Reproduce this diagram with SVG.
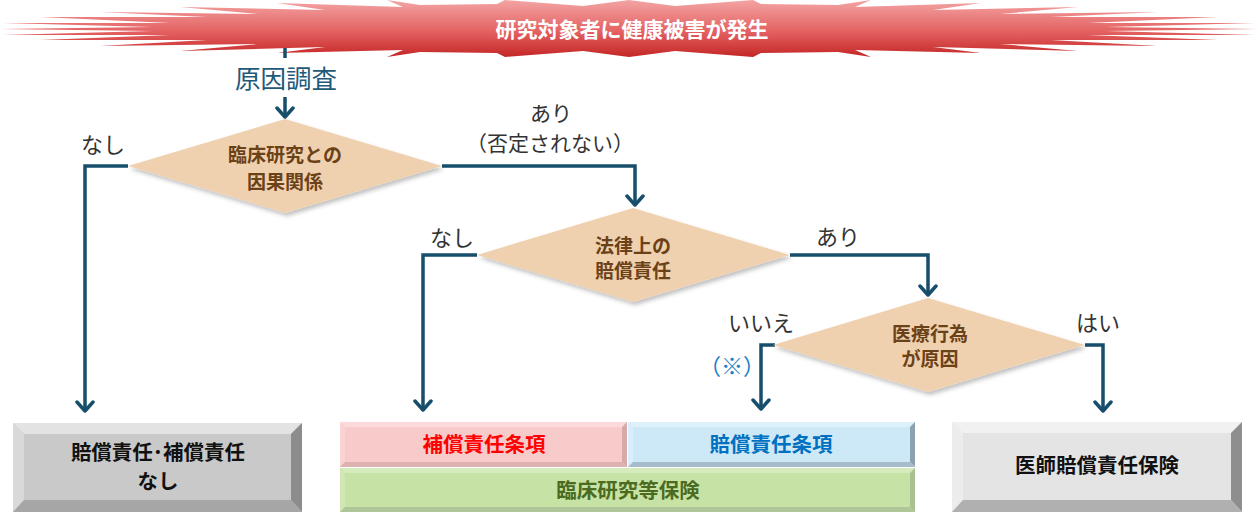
<svg xmlns="http://www.w3.org/2000/svg" width="1258" height="512" viewBox="0 0 1258 512">
<defs>
<linearGradient id="burst" x1="0" y1="0" x2="0" y2="57" gradientUnits="userSpaceOnUse">
<stop offset="0" stop-color="#F3A4A4"/>
<stop offset="0.55" stop-color="#E46262"/>
<stop offset="1" stop-color="#C42626"/>
</linearGradient>
<filter id="sh" x="-10%" y="-10%" width="130%" height="140%">
<feDropShadow dx="2" dy="3" stdDeviation="2" flood-color="#000" flood-opacity="0.25"/>
</filter>
<marker id="arr" viewBox="-12 -10 14 20" markerWidth="14" markerHeight="20" refX="0" refY="0" orient="auto" markerUnits="userSpaceOnUse">
<path d="M-9,-8 L0,0 L-9,8" fill="none" stroke="#164E6B" stroke-width="3.5" stroke-linecap="round" stroke-linejoin="round"/>
</marker>
</defs>
<style>
.con{fill:none;stroke:#164E6B;stroke-width:3.5}
.dia{fill:#F0D1AF;filter:url(#sh)}
.dt{font-family:"Noto Sans CJK JP","Noto Sans",sans-serif;font-weight:bold;font-size:19px;fill:#6B4218;text-anchor:middle}
.lbl{font-family:"Noto Sans CJK JP","Noto Sans",sans-serif;font-size:22px;fill:#333333;text-anchor:middle}
.bt{font-family:"Noto Sans CJK JP","Noto Sans",sans-serif;font-weight:bold;font-size:20.5px;text-anchor:middle}
</style>
<rect width="1258" height="512" fill="#FFFFFF"/>

<g id="burst-node">
<polygon fill="url(#burst)" points="387,0 420,5 497,4 505,0 583,6 629,0 675,6 753,0 761,4 838,5 871,0 855,7 981,3 933,10 1078,7 1000,14 1158,12 1051,17 1218,17 1088,23 1255,23 1106,27 1258,29 1106,31 1255,35 1088,35 1218,40 1051,40 1158,46 1000,44 1078,51 933,47 981,53 855,50 871,57 838,52 761,53 753,57 675,51 629,57 583,51 505,57 497,53 420,52 387,57 403,50 277,53 325,47 180,51 258,44 100,46 207,40 40,40 170,35 3,35 152,31 0,29 152,27 3,23 170,23 40,17 207,17 100,12 258,14 180,7 325,10 277,3 403,7"/>
<text x="632" y="37" font-family="'Noto Sans CJK JP','Noto Sans',sans-serif" font-weight="bold" font-size="21" fill="#FFFFFF" text-anchor="middle">研究対象者に健康被害が発生</text>
</g>

<g id="connectors">
<path class="con" d="M285,48 V58"/>
<path class="con" d="M285,97 V117" marker-end="url(#arr)"/>
<path class="con" d="M128,166 H85 V411" marker-end="url(#arr)"/>
<path class="con" d="M442,166 H635 V205" marker-end="url(#arr)"/>
<path class="con" d="M477,255 H423 V410" marker-end="url(#arr)"/>
<path class="con" d="M790,255 H928 V295" marker-end="url(#arr)"/>
<path class="con" d="M775,345 H761 V409" marker-end="url(#arr)"/>
<path class="con" d="M1085,345 H1103 V411" marker-end="url(#arr)"/>
<text x="286" y="88" font-family="'Noto Sans CJK JP','Noto Sans',sans-serif" font-size="25.5" fill="#1F5A78" text-anchor="middle">原因調査</text>
<text class="lbl" x="103" y="153">なし</text>
<text class="lbl" x="551" y="121" style="font-size:21px">あり</text>
<text class="lbl" x="550" y="151" style="font-size:21px">（否定されない）</text>
<text class="lbl" x="452" y="246">なし</text>
<text class="lbl" x="838" y="245">あり</text>
<text class="lbl" x="761" y="331">いいえ</text>
<text class="lbl" x="1098" y="331">はい</text>
<text class="lbl" x="732" y="374" style="fill:#1A7FC8">（※）</text>
</g>

<g id="d1">
<polygon class="dia" points="285,119 442,166 285,213 128,166"/>
<text class="dt" x="285" y="162">臨床研究との</text>
<text class="dt" x="285" y="189">因果関係</text>
</g>

<g id="d2">
<polygon class="dia" points="633,208 790,255 633,302 477,255"/>
<text class="dt" x="633" y="253">法律上の</text>
<text class="dt" x="633" y="278">賠償責任</text>
</g>

<g id="d3">
<polygon class="dia" points="928,298 1085,345 928,392 773,345"/>
<text class="dt" x="930" y="341">医療行為</text>
<text class="dt" x="930" y="366">が原因</text>
</g>

<g id="box-none">
<rect x="13" y="423" width="289" height="89" fill="#C9C9C9"/>
<polygon points="13,423 302,423 291,434 24,434" fill="#E3E3E3"/>
<polygon points="13,423 24,434 24,500 13,512" fill="#D9D9D9"/>
<polygon points="302,423 302,512 291,500 291,434" fill="#8C8C8C"/>
<polygon points="13,512 24,500 291,500 302,512" fill="#A6A6A6"/>
<text class="bt" x="158" y="460" fill="#111111">賠償責任･補償責任</text>
<text class="bt" x="158" y="489" fill="#111111">なし</text>
</g>

<g id="box-hosho">
<rect x="340" y="422" width="287" height="45" fill="#F8CBCB"/>
<polygon points="340,422 627,422 622,427 345,427" fill="#FADADA"/>
<polygon points="340,422 345,427 345,462 340,467" fill="#F9D3D3"/>
<polygon points="627,422 627,467 622,462 622,427" fill="#D7A9A9"/>
<polygon points="340,467 345,462 622,462 627,467" fill="#DDB1B1"/>
<text class="bt" x="484" y="452" fill="#FF0000">補償責任条項</text>
</g>

<g id="box-baisho">
<rect x="628" y="422" width="287" height="45" fill="#CDE9F8"/>
<polygon points="628,422 915,422 910,427 633,427" fill="#DDF1FB"/>
<polygon points="628,422 633,427 633,462 628,467" fill="#D8EEFA"/>
<polygon points="915,422 915,467 910,462 910,427" fill="#8DA2B0"/>
<polygon points="628,467 633,462 910,462 915,467" fill="#A6BCCA"/>
<text class="bt" x="771" y="452" fill="#0070C0">賠償責任条項</text>
</g>

<g id="box-rinsho">
<rect x="340" y="468" width="575" height="44" fill="#C7E2A5"/>
<polygon points="340,468 915,468 910,473 345,473" fill="#D6EBBC"/>
<polygon points="340,468 345,473 345,507 340,512" fill="#D0E6B4"/>
<polygon points="915,468 915,512 910,507 910,473" fill="#A9C190"/>
<polygon points="340,512 345,507 910,507 915,512" fill="#AFC699"/>
<text class="bt" x="628" y="498" fill="#4B6B20">臨床研究等保険</text>
</g>

<g id="box-ishi">
<rect x="952" y="422" width="290" height="90" fill="#E4E4E4"/>
<polygon points="952,422 1242,422 1231,433 963,433" fill="#F1F1F1"/>
<polygon points="952,422 963,433 963,500 952,512" fill="#ECECEC"/>
<polygon points="1242,422 1242,512 1231,500 1231,433" fill="#8E8E8E"/>
<polygon points="952,512 963,500 1231,500 1242,512" fill="#B0B0B0"/>
<text class="bt" x="1097" y="473" fill="#111111">医師賠償責任保険</text>
</g>
</svg>
